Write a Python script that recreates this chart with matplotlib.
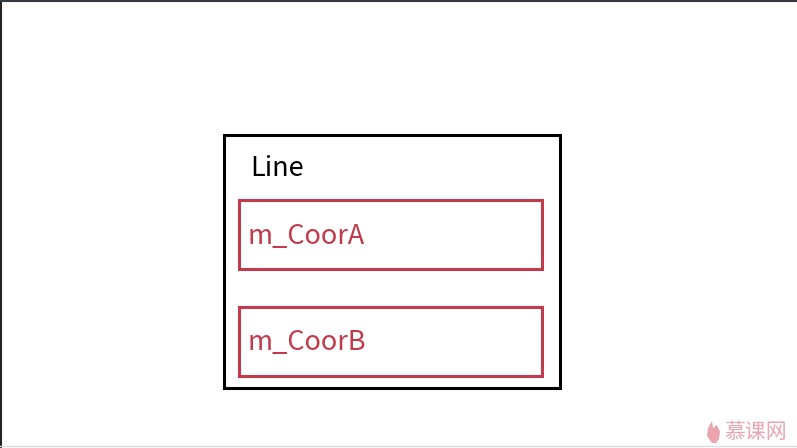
import matplotlib
matplotlib.use("Agg")
import matplotlib.pyplot as plt
from matplotlib.patches import Rectangle, Polygon

plt.rcParams['font.family'] = ['Noto Sans CJK SC', 'DejaVu Sans']

# Diagram content
outer_label = "Line"
member_labels = ["m_CoorA", "m_CoorB"]
watermark = "慕课网"

W, H = 797, 448
fig = plt.figure(figsize=(W / 100, H / 100), dpi=100)
ax = fig.add_axes([0, 0, 1, 1])
ax.set_xlim(0, W)
ax.set_ylim(H, 0)
ax.axis("off")

red = "#C23A4C"

# frame edges of the screenshot
ax.plot([0.8, 0.8], [0, H], color="#222222", lw=1.5)
ax.plot([0, W], [0.8, 0.8], color="#333b40", lw=1.5)
ax.plot([0, W], [446.5, 446.5], color="#dddddd", lw=1)

# outer class box
ax.add_patch(Rectangle((224, 135), 336, 253, fill=False, ec="black", lw=2.2))
ax.text(250, 168, outer_label, ha="left", va="center", fontsize=19.5, color="black")

# member boxes
box_tops = [200, 307]
for top, label in zip(box_tops, member_labels):
    ax.add_patch(Rectangle((239, top), 303, 69, fill=False, ec=red, lw=2.2))
    ax.text(248, top + 36, label, ha="left", va="center", fontsize=19.5, color=red)

# watermark
flame = [(712, 443), (707, 436), (708, 428), (712, 421), (713, 428),
         (717, 425), (720, 432), (719, 439), (716, 443)]
ax.add_patch(Polygon(flame, closed=True, fc="#EBA4AC", ec="none"))
ax.text(724, 432, watermark, ha="left", va="center", fontsize=15, color="#E9A6AE")

fig.savefig("out.png", dpi=100)
